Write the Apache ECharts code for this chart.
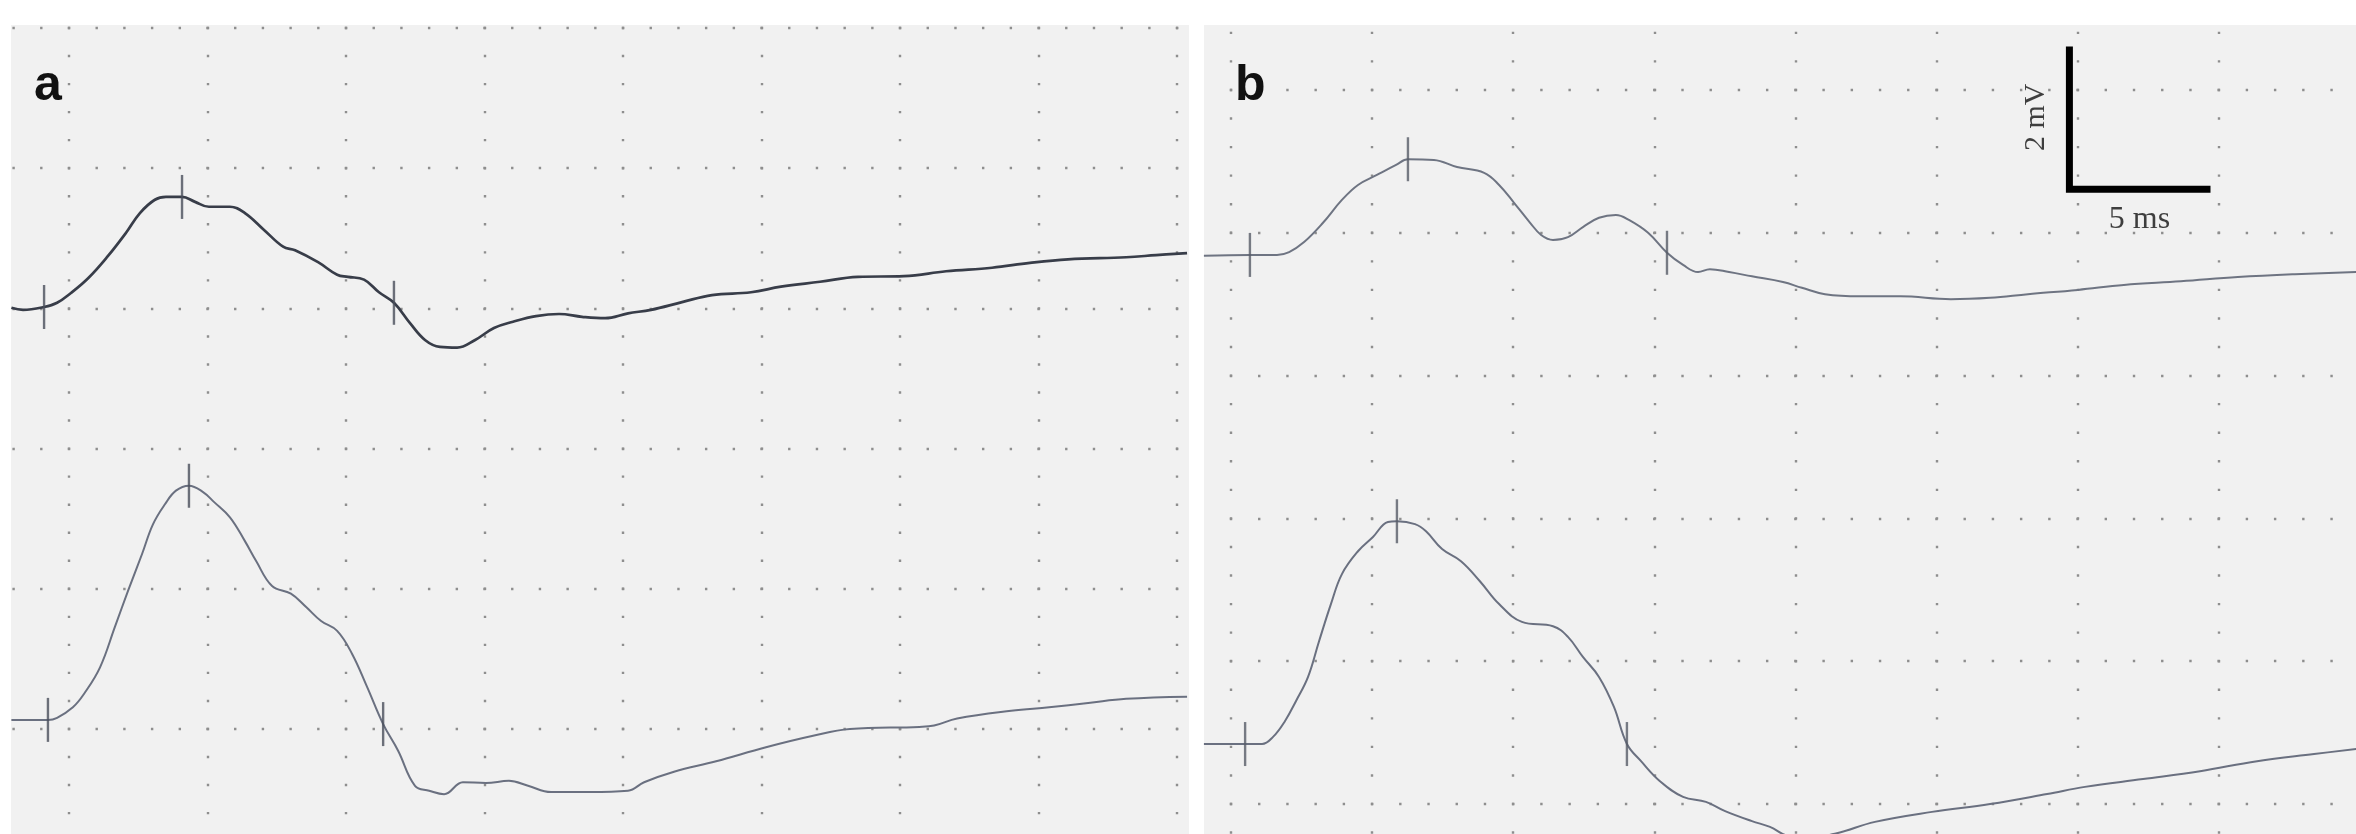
<!DOCTYPE html>
<html>
<head>
<meta charset="utf-8">
<script src="https://cdn.jsdelivr.net/npm/echarts@6/dist/echarts.min.js"></script>
<style>
html,body{margin:0;padding:0;background:#ffffff;}
#chart{width:2356px;height:834px;}
</style>
</head>
<body>
<div id="chart"></div>
<script>
// ---------------- DATA (time in ms, amplitude in mV as read on each panel's grid) ----------------
const panelLabels = ['a', 'b'];

// Panel a, upper trace
const aTime1 = [-2.08,-1.66,-0.90,-0.43,0.07,0.69,1.37,2.06,2.56,3.10,3.50,4.08,4.55,5.05,5.81,6.35,7.04,7.73,8.16,8.99,9.68,10.07,10.65,11.19,11.73,12.31,12.85,13.39,14.01,14.66,15.34,16.03,16.86,17.69,18.52,19.35,20.18,21.01,22.13,23.21,24.62,25.70,27.11,28.48,30.14,31.66,33.32,34.69,36.06,38.16,39.24,40.36];
const aVolt1 = [6.01,5.98,6.02,6.08,6.22,6.43,6.73,7.08,7.36,7.55,7.59,7.59,7.52,7.45,7.45,7.36,7.12,6.88,6.83,6.66,6.48,6.45,6.41,6.23,6.08,5.79,5.55,5.45,5.44,5.55,5.72,5.81,5.89,5.92,5.88,5.86,5.93,5.98,6.09,6.19,6.23,6.31,6.38,6.45,6.46,6.53,6.58,6.65,6.70,6.73,6.76,6.79];
// Panel a, lower trace
const aTime2 = [-2.08,-0.76,-0.43,0.14,0.54,1.12,1.66,2.13,2.64,3.03,3.47,3.86,4.33,4.84,5.23,5.81,6.35,6.75,7.33,8.01,8.56,9.10,9.68,10.22,10.76,11.34,11.88,12.49,13.00,13.54,14.22,15.05,15.88,16.57,17.40,18.81,20.18,20.76,21.84,23.36,25.16,26.82,28.19,30.69,31.23,32.06,34.01,35.38,36.79,38.16,40.36];
const aVolt2 = [0.13,0.13,0.16,0.31,0.50,0.88,1.46,1.97,2.50,2.92,3.21,3.40,3.47,3.38,3.24,3.02,2.68,2.40,2.04,1.93,1.74,1.54,1.40,1.07,0.60,0.07,-0.31,-0.81,-0.88,-0.93,-0.76,-0.77,-0.74,-0.81,-0.90,-0.90,-0.88,-0.76,-0.61,-0.46,-0.26,-0.10,0.00,0.03,0.05,0.15,0.26,0.31,0.37,0.43,0.46];
// Panel b, upper trace
const bTime1 = [-0.96,0.67,1.63,2.06,2.59,3.26,3.93,4.50,5.17,5.85,6.27,7.19,8.01,8.97,9.50,10.03,10.60,10.99,11.41,11.94,12.47,13.04,13.64,14.10,14.78,15.45,16.02,16.55,16.97,17.65,18.46,19.56,20.23,21.05,22.29,23.71,25.51,26.90,28.24,30.01,31.64,33.66,35.68,37.70,39.87];
const bVolt1 = [7.68,7.69,7.69,7.73,7.87,8.14,8.46,8.67,8.81,8.95,9.03,9.02,8.92,8.84,8.67,8.42,8.14,7.97,7.90,7.94,8.08,8.21,8.25,8.18,8.00,7.72,7.55,7.45,7.49,7.45,7.39,7.31,7.23,7.14,7.11,7.11,7.07,7.09,7.14,7.20,7.27,7.32,7.38,7.42,7.45];
// Panel b, lower trace
const bTime2 = [-0.96,0.50,1.10,1.49,1.91,2.30,2.73,3.12,3.54,3.93,4.50,5.03,5.56,5.88,6.52,6.91,7.48,8.15,8.82,9.50,10.31,11.41,11.94,12.47,13.04,13.57,14.03,14.53,15.20,16.02,16.83,17.51,18.46,19.10,19.81,20.66,21.47,22.82,24.84,26.90,28.92,30.26,32.32,34.34,36.36,38.38,39.87];
const bVolt2 = [0.84,0.84,0.84,0.94,1.16,1.44,1.78,2.28,2.80,3.22,3.54,3.74,3.95,3.96,3.92,3.82,3.57,3.40,3.12,2.80,2.55,2.49,2.34,2.06,1.78,1.36,0.84,0.60,0.32,0.10,0.03,-0.10,-0.24,-0.32,-0.45,-0.46,-0.41,-0.25,-0.11,0.00,0.14,0.24,0.35,0.46,0.60,0.70,0.77];

// Cursor marks (onset, peak, end)
const aMarkTime1 = [-0.90, 4.08, 11.73];
const aMarkVolt1 = [6.02, 7.59, 6.08];
const aMarkTime2 = [-0.76, 4.33, 11.34];
const aMarkVolt2 = [0.13, 3.47, 0.07];
const bMarkTime1 = [0.67, 6.27, 15.45];
const bMarkVolt1 = [7.69, 9.03, 7.72];
const bMarkTime2 = [0.50, 5.88, 14.03];
const bMarkVolt2 = [0.84, 3.96, 0.84];

// Calibration bar: corner (ms, mV) and lengths
const scaleCorner = [29.71, 8.61];
const scaleLengthMs = 5;
const scaleLengthMv = 2;
const scaleLabels = ['5 ms', '2 mV'];

// Grid divisions
const divMs = 5;
const divMv = 2;

// ---------------- LAYOUT / STYLE ----------------
const A = {left: 11, top: 25, width: 1178, height: 809, xMin: -2.094, xMax: 40.43, yMin: -1.498, yMax: 10.043};
const B = {left: 1204, top: 25, width: 1152, height: 809, xMin: -0.957, xMax: 39.866, yMin: -0.420, yMax: 10.910};

const dotColor = '#8e8e8e';
const dotSize = 2.4;
const bg = '#f1f1f1';

function zip(t, v) { return t.map((x, i) => [x, v[i]]); }

function dashFor(startPx, anchorPx, period) {
  const dist = (((anchorPx - dotSize / 2 - startPx) % period) + period) % period;
  return {type: [dotSize, period - dotSize], dashOffset: (period - dist) % period};
}

function axesFor(P, gi) {
  const pxPerX = P.width / (P.xMax - P.xMin);
  const pxPerY = P.height / (P.yMax - P.yMin);
  const vPeriod = pxPerY * divMv / 5;
  const vAnchor = P.top + (P.yMax - 0) * pxPerY;
  const hPeriod = pxPerX * divMs / 5;
  const hAnchor = P.left + (0 - P.xMin) * pxPerX;
  const common = {
    type: 'value', gridIndex: gi,
    axisLine: {show: false}, axisTick: {show: false}, axisLabel: {show: false}
  };
  const x = Object.assign({}, common, {
    min: P.xMin, max: P.xMax, minInterval: divMs, maxInterval: divMs,
    splitLine: {show: true, showMinLine: false, showMaxLine: false,
      lineStyle: Object.assign({color: dotColor, width: dotSize, cap: 'butt'}, dashFor(P.top, vAnchor, vPeriod))}
  });
  const y = Object.assign({}, common, {
    min: P.yMin, max: P.yMax, minInterval: divMv, maxInterval: divMv,
    splitLine: {show: true, showMinLine: false, showMaxLine: false,
      lineStyle: Object.assign({color: dotColor, width: dotSize, cap: 'butt'}, dashFor(P.left, hAnchor, hPeriod))}
  });
  return [x, y];
}

const [ax, ay] = axesFor(A, 0);
const [bx, by] = axesFor(B, 1);

function trace(gi, t, v, color, width) {
  return {
    type: 'line', xAxisIndex: gi, yAxisIndex: gi, data: zip(t, v),
    showSymbol: false, symbol: 'none', smooth: 0.4, clip: true, silent: true,
    lineStyle: {color: color, width: width, join: 'round'}, z: 3
  };
}
function marks(gi, t, v, color) {
  return {
    type: 'scatter', xAxisIndex: gi, yAxisIndex: gi, data: zip(t, v),
    symbol: 'rect', symbolSize: [2.4, 44], silent: true,
    itemStyle: {color: color}, z: 4
  };
}

const scaleBarData = [
  [scaleCorner[0], scaleCorner[1] + scaleLengthMv],
  [scaleCorner[0], scaleCorner[1]],
  [scaleCorner[0] + scaleLengthMs, scaleCorner[1]]
];

const option = {
  animation: false,
  backgroundColor: '#ffffff',
  grid: [
    {left: A.left, top: A.top, width: A.width, height: A.height, show: true, backgroundColor: bg, borderWidth: 0, containLabel: false},
    {left: B.left, top: B.top, width: B.width, height: B.height, show: true, backgroundColor: bg, borderWidth: 0, containLabel: false}
  ],
  xAxis: [ax, bx],
  yAxis: [ay, by],
  graphic: [
    {type: 'text', left: 34, top: 61, z: 10, style: {text: panelLabels[0], font: 'bold 50px "Liberation Sans", Arial, sans-serif', fill: '#111'}},
    {type: 'text', left: 1235, top: 61, z: 10, style: {text: panelLabels[1], font: 'bold 50px "Liberation Sans", Arial, sans-serif', fill: '#111'}}
  ],
  series: [
    trace(0, aTime1, aVolt1, '#383d49', 2.7),
    trace(0, aTime2, aVolt2, '#6a7080', 2.0),
    marks(0, aMarkTime1, aMarkVolt1, '#4a4f5b'),
    marks(0, aMarkTime2, aMarkVolt2, '#4a4f5b'),
    trace(1, bTime1, bVolt1, '#6e7482', 2.0),
    trace(1, bTime2, bVolt2, '#6a7080', 2.0),
    marks(1, bMarkTime1, bMarkVolt1, '#575c68'),
    marks(1, bMarkTime2, bMarkVolt2, '#575c68'),
    {
      type: 'line', xAxisIndex: 1, yAxisIndex: 1, data: scaleBarData,
      showSymbol: false, symbol: 'none', silent: true, z: 5,
      lineStyle: {color: '#000', width: 7, join: 'miter', cap: 'butt'}
    },
    {
      type: 'scatter', xAxisIndex: 1, yAxisIndex: 1, silent: true, z: 6,
      symbolSize: 1, itemStyle: {color: 'transparent'},
      data: [
        {value: [scaleCorner[0] + scaleLengthMs / 2, scaleCorner[1]],
         label: {show: true, formatter: scaleLabels[0], position: [0, 31], align: 'center', verticalAlign: 'middle',
                 fontFamily: '"Liberation Serif", "Times New Roman", serif', fontSize: 32, color: '#111'}},
        {value: [scaleCorner[0], scaleCorner[1] + scaleLengthMv / 2],
         label: {show: true, formatter: scaleLabels[1], position: [-33, 0], align: 'center', verticalAlign: 'middle', rotate: 90,
                 fontFamily: '"Liberation Serif", "Times New Roman", serif', fontSize: 30, color: '#111'}}
      ]
    }
  ]
};

const chart = echarts.init(document.getElementById('chart'), null, {renderer: 'canvas'});
chart.setOption(option);
</script>
</body>
</html>
